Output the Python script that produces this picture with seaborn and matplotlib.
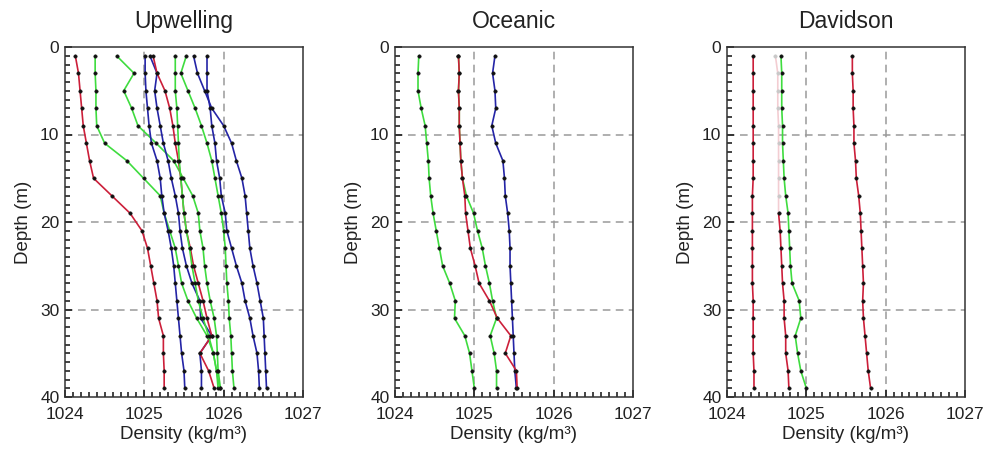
import numpy as np
import pandas as pd
import matplotlib
matplotlib.use("Agg")
import matplotlib.pyplot as plt
from matplotlib.ticker import MultipleLocator
import seaborn as sns

# ---------------- data ----------------
depths = [1, 3, 5, 7, 9, 11, 13, 15, 17, 19, 21, 23, 25, 27, 29, 31, 33, 35, 37, 39]
panels = ["Upwelling", "Oceanic", "Davidson"]
x_ticks = [1024, 1025, 1026, 1027]
y_ticks = [0, 10, 20, 30, 40]

# Upwelling profiles
up_red1 = [1024.13, 1024.17, 1024.19, 1024.21, 1024.23, 1024.27, 1024.31, 1024.36, 1024.59, 1024.82,
           1024.97, 1025.04, 1025.08, 1025.12, 1025.16, 1025.18, 1025.24, 1025.24, 1025.25, 1025.25]
up_red2 = [1025.11, 1025.16, 1025.26, 1025.32, 1025.36, 1025.39, 1025.43, 1025.46, 1025.48, 1025.50,
           1025.53, 1025.58, 1025.62, 1025.68, 1025.74, 1025.79, 1025.85, 1025.70, 1025.81, 1025.88]
up_blue1 = [1025.01, 1025.01, 1025.02, 1025.04, 1025.06, 1025.09, 1025.16, 1025.20, 1025.22, 1025.25,
            1025.30, 1025.34, 1025.37, 1025.39, 1025.41, 1025.43, 1025.45, 1025.47, 1025.50, 1025.51]
up_blue2 = [1025.07, 1025.16, 1025.13, 1025.16, 1025.20, 1025.24, 1025.30, 1025.34, 1025.39, 1025.43,
            1025.45, 1025.48, 1025.53, 1025.60, 1025.70, 1025.71, 1025.85, 1025.70, 1025.72, 1025.72]
up_blue3 = [1025.62, 1025.67, 1025.76, 1025.85, 1026.00, 1026.10, 1026.16, 1026.23, 1026.27, 1026.29,
            1026.31, 1026.33, 1026.37, 1026.42, 1026.46, 1026.50, 1026.51, 1026.52, 1026.53, 1026.54]
up_blue4 = [1025.79, 1025.79, 1025.79, 1025.83, 1025.85, 1025.89, 1025.91, 1025.95, 1025.97, 1026.02,
            1026.04, 1026.10, 1026.16, 1026.23, 1026.27, 1026.33, 1026.37, 1026.42, 1026.44, 1026.45]
up_green1 = [1024.38, 1024.38, 1024.39, 1024.39, 1024.40, 1024.50, 1024.78, 1024.99, 1025.20, 1025.25,
             1025.32, 1025.39, 1025.43, 1025.47, 1025.55, 1025.66, 1025.79, 1025.87, 1025.91, 1025.93]
up_green2 = [1024.65, 1024.87, 1024.74, 1024.84, 1024.92, 1025.15, 1025.37, 1025.49, 1025.61, 1025.68,
             1025.70, 1025.74, 1025.76, 1025.79, 1025.83, 1025.88, 1025.91, 1025.92, 1025.93, 1025.96]
up_green3 = [1025.39, 1025.39, 1025.39, 1025.41, 1025.42, 1025.43, 1025.44, 1025.46, 1025.48, 1025.50,
             1025.53, 1025.57, 1025.60, 1025.64, 1025.68, 1025.74, 1025.81, 1025.87, 1025.91, 1025.95]
up_green4 = [1025.53, 1025.46, 1025.55, 1025.64, 1025.72, 1025.79, 1025.85, 1025.89, 1025.93, 1025.97,
             1026.00, 1026.02, 1026.03, 1026.04, 1026.06, 1026.07, 1026.09, 1026.10, 1026.11, 1026.13]

# Oceanic profiles
oc_green1 = [1024.30, 1024.29, 1024.29, 1024.33, 1024.38, 1024.40, 1024.42, 1024.43, 1024.45, 1024.48,
             1024.52, 1024.56, 1024.60, 1024.69, 1024.76, 1024.75, 1024.88, 1024.94, 1024.97, 1025.00]
oc_green2 = [1024.80, 1024.81, 1024.80, 1024.81, 1024.81, 1024.82, 1024.83, 1024.85, 1024.90, 1024.99,
             1025.04, 1025.10, 1025.14, 1025.19, 1025.23, 1025.28, 1025.20, 1025.25, 1025.28, 1025.28]
oc_red = [1024.80, 1024.81, 1024.80, 1024.81, 1024.81, 1024.82, 1024.83, 1024.85, 1024.88, 1024.89,
          1024.92, 1024.95, 1025.01, 1025.06, 1025.19, 1025.29, 1025.46, 1025.39, 1025.53, 1025.54]
oc_blue = [1025.26, 1025.23, 1025.26, 1025.27, 1025.22, 1025.27, 1025.36, 1025.38, 1025.39, 1025.42,
           1025.44, 1025.45, 1025.45, 1025.46, 1025.47, 1025.48, 1025.49, 1025.50, 1025.51, 1025.53]

# Davidson profiles
dv_red1 = [1024.33, 1024.33, 1024.33, 1024.33, 1024.33, 1024.33, 1024.33, 1024.33, 1024.32, 1024.32,
           1024.32, 1024.32, 1024.32, 1024.32, 1024.33, 1024.33, 1024.33, 1024.33, 1024.34, 1024.34]
dv_red2 = [1024.61, 1024.64, 1024.64, 1024.64, 1024.65, 1024.65, 1024.65, 1024.65, 1024.65, 1024.65,
           1024.67, 1024.68, 1024.69, 1024.70, 1024.72, 1024.72, 1024.74, 1024.74, 1024.77, 1024.78]
dv_green = [1024.68, 1024.69, 1024.69, 1024.69, 1024.70, 1024.70, 1024.71, 1024.72, 1024.74, 1024.77,
            1024.78, 1024.79, 1024.80, 1024.82, 1024.91, 1024.93, 1024.86, 1024.89, 1024.93, 1025.00]
dv_red3 = [1025.58, 1025.58, 1025.59, 1025.59, 1025.60, 1025.60, 1025.62, 1025.63, 1025.66, 1025.68,
           1025.69, 1025.70, 1025.71, 1025.72, 1025.71, 1025.72, 1025.74, 1025.76, 1025.78, 1025.81]

RED, GREEN, BLUE = "#cc1f3a", "#3fdc3f", "#2424a6"
PALE = "#f3cdd2"

profiles = {
    "Upwelling": [("u_r1", up_red1, RED), ("u_g1", up_green1, GREEN), ("u_g2", up_green2, GREEN),
                  ("u_b1", up_blue1, BLUE), ("u_b2", up_blue2, BLUE), ("u_r2", up_red2, RED),
                  ("u_g3", up_green3, GREEN), ("u_g4", up_green4, GREEN),
                  ("u_b3", up_blue3, BLUE), ("u_b4", up_blue4, BLUE)],
    "Oceanic": [("o_g1", oc_green1, GREEN), ("o_b", oc_blue, BLUE), ("o_g2", oc_green2, GREEN),
                ("o_r", oc_red, RED)],
    "Davidson": [("d_r1", dv_red1, RED), ("d_g", dv_green, GREEN), ("d_r2", dv_red2, RED),
                 ("d_r3", dv_red3, RED)],
}

# ---------------- style ----------------
sns.set_style("ticks")
plt.rcParams["font.family"] = ["Liberation Sans", "DejaVu Sans"]

fig = plt.figure(figsize=(9.87, 4.5), dpi=100)
lefts = [65, 395, 727]
W, H = 987.0, 450.0

for i, name in enumerate(panels):
    ax = fig.add_axes([lefts[i] / W, 53 / H, 238 / W, 350 / H])
    rows = []
    palette = {}
    for key, vals, col in profiles[name]:
        if key == "d_r2":
            # upper part of this profile is drawn faded
            for d, v in zip(depths, vals):
                if d <= 19:
                    rows.append(dict(profile="d_r2_pale", depth=d, density=v))
            palette["d_r2_pale"] = PALE
            for d, v in zip(depths, vals):
                if d >= 19:
                    rows.append(dict(profile=key, depth=d, density=v))
        else:
            for d, v in zip(depths, vals):
                rows.append(dict(profile=key, depth=d, density=v))
        palette[key] = col
    df = pd.DataFrame(rows)
    order = list(dict.fromkeys(df["profile"]))
    sns.lineplot(data=df, x="density", y="depth", hue="profile", hue_order=order,
                 palette=palette, sort=False, estimator=None, legend=False,
                 linewidth=1.2, marker="o", markersize=2.5, ax=ax)
    for ln in ax.lines:
        if matplotlib.colors.to_hex(ln.get_color()) == matplotlib.colors.to_hex(PALE):
            ln.set_markerfacecolor("#c8c8c8")
            ln.set_markeredgecolor("#c8c8c8")
        else:
            ln.set_markerfacecolor("#111111")
            ln.set_markeredgecolor("#111111")
        ln.set_markeredgewidth(0.3)

    # dashed reference grid
    for xv in [1025, 1026]:
        ax.axvline(xv, color="#9a9a9a", lw=1.1, ls=(0, (5, 3.5)), zorder=0)
    for yv in [10, 20, 30]:
        ax.axhline(yv, color="#9a9a9a", lw=1.1, ls=(0, (5, 3.5)), zorder=0)

    ax.set_xlim(1024, 1027)
    ax.set_ylim(40, 0)
    ax.set_xticks(x_ticks)
    ax.set_yticks(y_ticks)
    ax.xaxis.set_minor_locator(MultipleLocator(0.1))
    ax.yaxis.set_minor_locator(MultipleLocator(1))
    ax.tick_params(which="both", direction="in", top=False, right=False,
                   bottom=True, left=True, color="#111111", width=1.1,
                   labelsize=12.5, labelcolor="#222222")
    ax.tick_params(which="major", length=5)
    ax.tick_params(which="minor", length=3.3)
    ax.tick_params(axis="x", which="major", pad=7)
    ax.tick_params(axis="y", which="major", pad=4)
    for sp in ax.spines.values():
        sp.set_color("#333333")
        sp.set_linewidth(1.1)
    ax.set_xlabel("Density (kg/m³)", fontsize=13.5, labelpad=3, color="#222222")
    ax.set_ylabel("Depth (m)", fontsize=13.5, labelpad=6, color="#222222")
    ax.set_title(name, fontsize=16.5, pad=14, color="#222222")

fig.savefig("out.png", dpi=100)
